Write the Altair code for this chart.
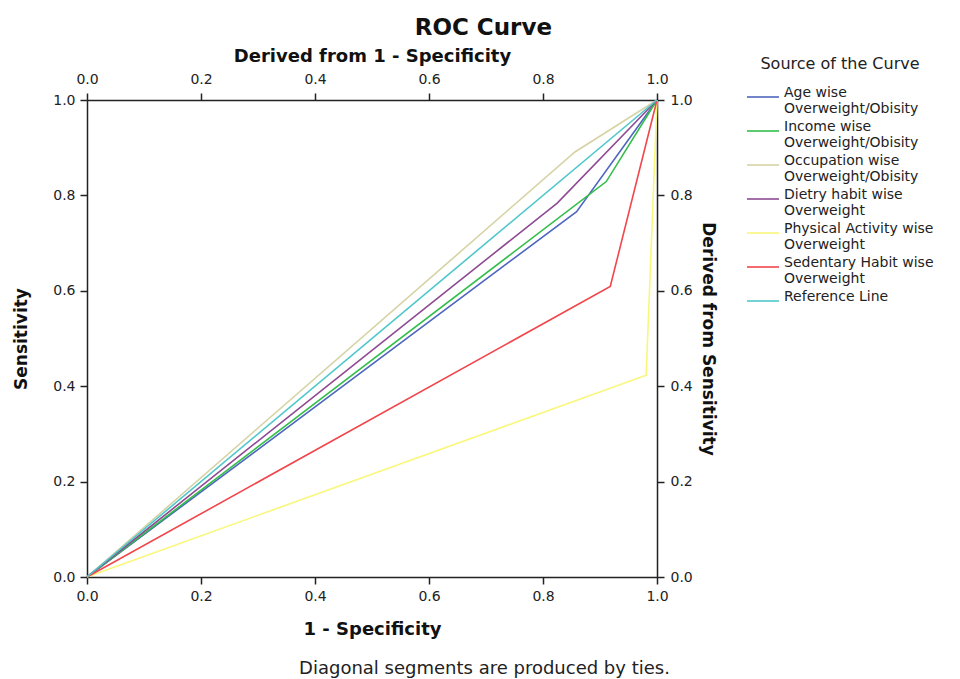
import altair as alt
import pandas as pd

# ---- data ----
series_names = [
    "Age wise|Overweight/Obisity",
    "Income wise|Overweight/Obisity",
    "Occupation wise|Overweight/Obisity",
    "Dietry habit wise|Overweight",
    "Physical Activity wise|Overweight",
    "Sedentary Habit wise|Overweight",
    "Reference Line",
]
colors = ["#4F67BE", "#33BE4A", "#D6D3A5", "#8E4A93", "#F9F77A", "#F1464B", "#4FC7CA"]

# each curve: (0,0) -> break point -> (1,1)
break_fpr = [0.859, 0.911, 0.856, 0.825, 0.981, 0.918]
break_tpr = [0.766, 0.829, 0.891, 0.784, 0.423, 0.609]

tick_vals = [0.0, 0.2, 0.4, 0.6, 0.8, 1.0]

rows = []
for i, name in enumerate(series_names[:-1]):
    pts = [(0.0, 0.0), (break_fpr[i], break_tpr[i]), (1.0, 1.0)]
    for k, (fx, ty) in enumerate(pts):
        rows.append({"series": name, "fpr": fx, "tpr": ty, "order": k})
for k, v in enumerate([0.0, 1.0]):
    rows.append({"series": series_names[-1], "fpr": v, "tpr": v, "order": k})
df = pd.DataFrame(rows)

FONT = "DejaVu Sans"

xscale = alt.Scale(domain=[0, 1], nice=False)
yscale = alt.Scale(domain=[0, 1], nice=False)

axis_common = dict(
    values=tick_vals, format=".1f", grid=False, labelFlush=False,
    domainColor="#222222", domainWidth=1.5,
    tickColor="#222222", tickWidth=1.5, tickSize=7,
    labelFont=FONT, labelFontSize=14, labelColor="#222222",
    titleFont=FONT, titleFontWeight="bold", titleColor="#111111",
)

lines = alt.Chart(df).mark_line(strokeWidth=1.6).encode(
    x=alt.X("fpr:Q", scale=xscale,
            axis=alt.Axis(title="1 - Specificity", orient="bottom", labelPadding=5,
                          titleFontSize=18, titlePadding=17, **axis_common)),
    y=alt.Y("tpr:Q", scale=yscale,
            axis=alt.Axis(title="Sensitivity", orient="left", labelPadding=5,
                          titleFontSize=17, titlePadding=22, **axis_common)),
    color=alt.Color(
        "series:N",
        scale=alt.Scale(domain=series_names, range=colors),
        legend=alt.Legend(
            title="Source of the Curve",
            orient="none", legendX=659, legendY=-44,
            titleFont=FONT, titleFontSize=16, titleFontWeight="normal", titleColor="#222222",
            titleAnchor="middle", titlePadding=16,
            labelFont=FONT, labelFontSize=14, labelColor="#222222", labelLimit=400,
            labelExpr="split(datum.label, '|')", labelOffset=20, labelBaseline="alphabetic",
            symbolType="M-1,0L3,0", symbolSize=256, symbolStrokeWidth=1.6,
            rowPadding=4,
        ),
    ),
    order="order:Q",
)

frame = alt.Chart(df).mark_line(opacity=0).encode(
    x=alt.X("fpr:Q", scale=xscale,
            axis=alt.Axis(title="Derived from 1 - Specificity", orient="top", labelPadding=7,
                          titleFontSize=18, titlePadding=7, **axis_common)),
    y=alt.Y("tpr:Q", scale=yscale,
            axis=alt.Axis(title="Derived from Sensitivity", orient="right", titleAngle=90,
                          labelPadding=6, titleFontSize=17, titlePadding=6, **axis_common)),
    detail="series:N",
    order="order:Q",
)

main = alt.layer(lines, frame).resolve_axis(x="independent", y="independent").properties(
    width=570, height=477,
)

inner = alt.vconcat(main).properties(
    title=alt.TitleParams("Diagonal segments are produced by ties.", orient="bottom",
                          font=FONT, fontSize=18, fontWeight="normal", color="#222222",
                          anchor="middle", frame="bounds", offset=22, dx=120),
)

chart = alt.vconcat(inner).properties(
    title=alt.TitleParams("ROC Curve", font=FONT, fontSize=23, fontWeight="bold",
                          color="#111111", anchor="middle", frame="bounds", offset=7, dx=10),
    padding={"left": 4, "top": 9, "right": 0, "bottom": 0},
).configure_view(stroke=None).configure_concat(spacing=0)

chart.save("out.html", embed_options={"renderer": "svg", "actions": False})
